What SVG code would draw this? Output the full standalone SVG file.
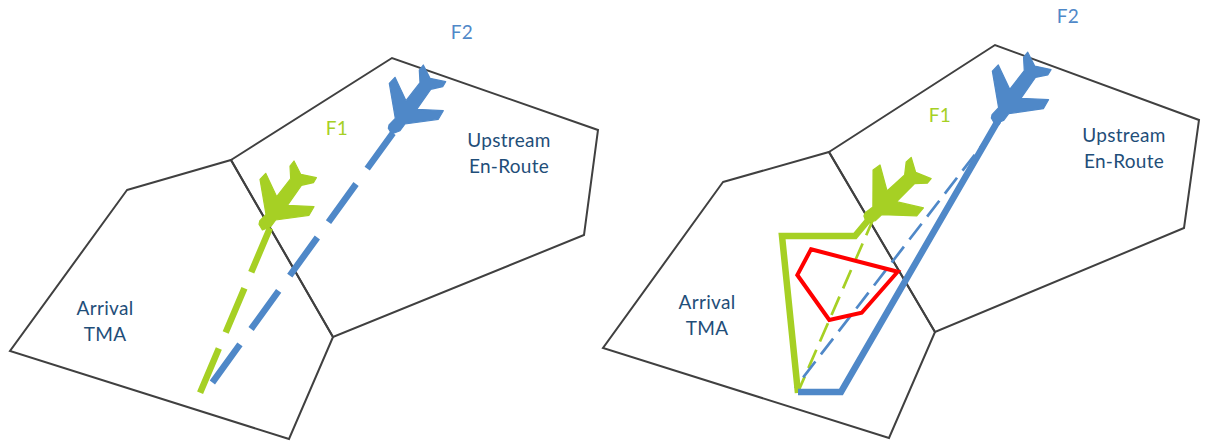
<svg xmlns="http://www.w3.org/2000/svg" xmlns:xlink="http://www.w3.org/1999/xlink" width="1210" height="441" viewBox="0 0 1210 441">
<style>
.zone{fill:none;stroke:#404040;stroke-width:2;stroke-linejoin:miter}
.lbl{font-family:"Lato","Open Sans","Liberation Sans",sans-serif;font-size:19px;letter-spacing:0.3px;text-anchor:middle;fill:#1f4e79}
.f1t{fill:#a6d024}.f2t{fill:#4f88c8}
.line{fill:none;stroke-linecap:butt;stroke-linejoin:miter}
.g{stroke:#a6d024}.b{stroke:#4f88c8}
.thick{stroke-width:6.5}
.solid{stroke-width:6.5}
.thin{stroke-width:2.7;stroke-dasharray:20 9}
.red{fill:none;stroke:#ff0000;stroke-width:4;stroke-linejoin:miter}
.pb{fill:#4f88c8;stroke:#4f88c8;stroke-width:1.2;stroke-linejoin:round}
.pg{fill:#a6d024;stroke:#a6d024;stroke-width:1.2;stroke-linejoin:round}
</style>
<defs>
<polygon id="plane" points="0,0 11,23.4 25,5.4 24.3,-7.3 28.3,-12.3 35,1 50.7,4.4 47.7,9.4 35.7,12 21.7,32 48.3,33.4 43.3,42 10,46.7 5,53.4 -3.3,56.7 -6.7,51 -6,47.7 0.3,41 -5.7,6"/>
</defs>
<g id="left-tma"><polygon class="zone" points="127,190 231,160 333,337 289,439 10,351"/></g>
<g id="left-upstream"><polygon class="zone" points="231,160 392,58 598,130 584,235 333,337"/></g>
<g id="right-tma"><polygon class="zone" points="723,182 829,152 935,332 889,438 603,348"/></g>
<g id="right-upstream"><polygon class="zone" points="829,152 995,45 1199,120 1184,228 935,332"/></g>
<g id="connectors">
<path class="line b thick" stroke-dasharray="47 19" stroke-dashoffset="3" d="M393,133 L212,383"/>
<path class="line g thick" stroke-dasharray="48 17.5" d="M270,228 L200,393"/>
<path class="line g thin" stroke-dashoffset="27" d="M875,215 L798,392"/>
<path class="line b thin" stroke-dashoffset="16.6" d="M1000,122 L795,388"/>
<path class="line g solid" d="M875,212 L855,236 L782,236 L798,393"/>
<path class="line b solid" d="M999,119 L841,392 L798,392"/>
<polygon class="red" points="811,249.3 897.7,271.7 861.7,312.7 829.3,320 797.3,275"/>
</g>
<g id="plane-f2-left"><use href="#plane" class="pb" transform="translate(395,77.3)"/></g>
<g id="plane-f1-left"><use href="#plane" class="pg" transform="translate(265.7,173.3)"/></g>
<g id="plane-f2-right"><use href="#plane" class="pb" transform="translate(998.3,65) scale(1.04)"/></g>
<g id="plane-f1-right"><use href="#plane" class="pg" transform="translate(880,165) rotate(10) scale(1.04)"/></g>
<g id="labels-left">
<text class="lbl f2t" x="462" y="39">F2</text>
<text class="lbl f1t" x="337" y="135">F1</text>
<text class="lbl" x="509" y="146.5">Upstream</text>
<text class="lbl" x="509" y="172.7">En-Route</text>
<text class="lbl" x="105" y="315">Arrival</text>
<text class="lbl" x="105" y="341">TMA</text>
</g>
<g id="labels-right">
<text class="lbl f2t" x="1068" y="22.7">F2</text>
<text class="lbl f1t" x="940" y="121.7">F1</text>
<text class="lbl" x="1124" y="141.7">Upstream</text>
<text class="lbl" x="1124" y="167.7">En-Route</text>
<text class="lbl" x="707" y="308.5">Arrival</text>
<text class="lbl" x="707" y="334.5">TMA</text>
</g>
</svg>
